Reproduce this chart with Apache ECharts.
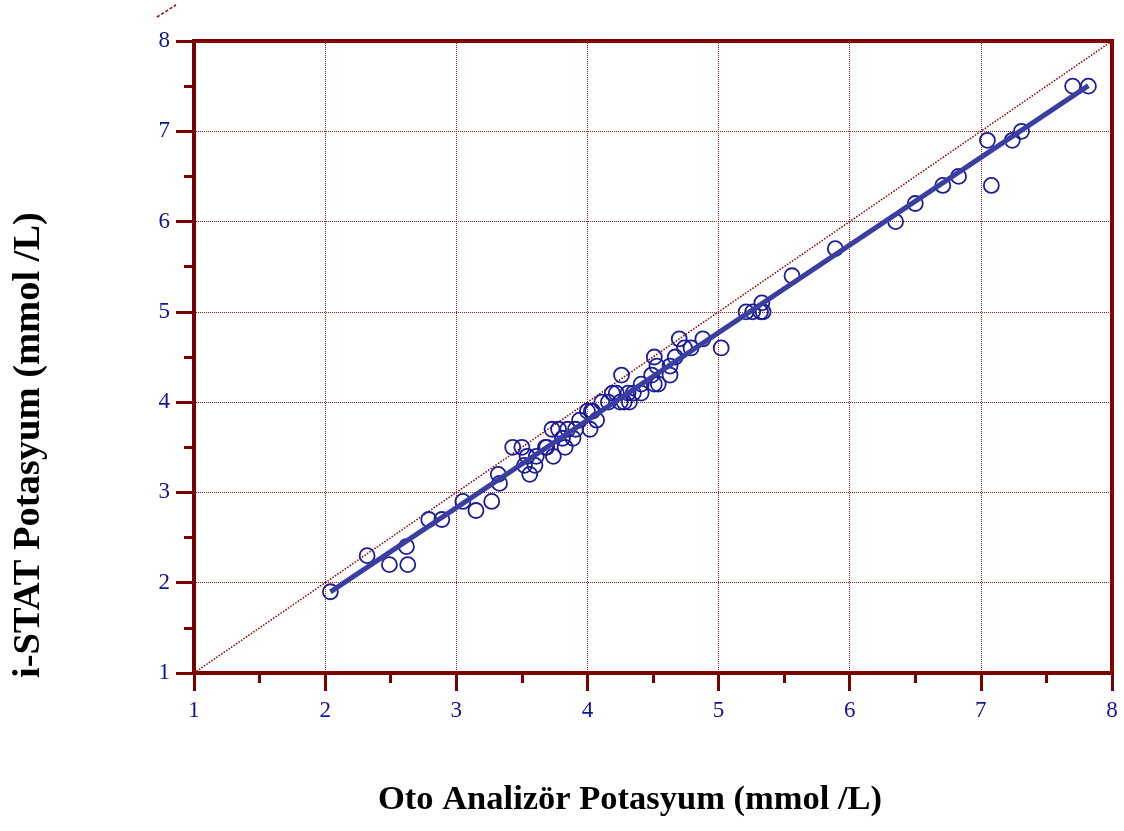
<!DOCTYPE html>
<html>
<head>
<meta charset="utf-8">
<script src="https://cdn.jsdelivr.net/npm/echarts@6/dist/echarts.min.js"></script>
<style>
  html, body { margin: 0; padding: 0; background: #fff; }
  #chart { width: 1124px; height: 831px; }
</style>
</head>
<body>
<div id="chart"></div>
<script>
// values
var otoK = [2.04, 2.32, 2.49, 2.62, 2.63, 2.79, 2.89, 3.05, 3.15, 3.27,
  3.32, 3.33, 3.43, 3.50, 3.54, 3.52, 3.56, 3.60, 3.61, 3.68,
  3.74, 3.73, 3.78, 3.81, 3.83, 3.85, 3.91, 3.89, 3.94, 4.00,
  4.02, 4.04, 4.07, 4.11, 4.16, 4.19, 4.22, 4.25, 4.28, 4.32,
  4.31, 4.35, 4.26, 4.41, 4.41, 4.49, 4.51, 4.53, 4.54, 4.63,
  4.63, 4.67, 4.70, 4.74, 4.79, 4.88, 5.02, 5.21, 5.26, 5.32,
  5.34, 5.33, 5.56, 5.89, 6.35, 6.50, 6.71, 6.83, 7.05, 7.08,
  7.24, 7.31, 7.70, 7.82, 4.03, 4.51, 3.69];
var istatK = [1.9, 2.3, 2.2, 2.4, 2.2, 2.7, 2.7, 2.9, 2.8, 2.9,
  3.2, 3.1, 3.5, 3.5, 3.4, 3.3, 3.2, 3.3, 3.4, 3.5,
  3.4, 3.7, 3.7, 3.6, 3.5, 3.7, 3.7, 3.6, 3.8, 3.9,
  3.7, 3.9, 3.8, 4.0, 4.0, 4.1, 4.1, 4.0, 4.0, 4.0,
  4.1, 4.1, 4.3, 4.1, 4.2, 4.3, 4.5, 4.4, 4.2, 4.4,
  4.3, 4.5, 4.7, 4.6, 4.6, 4.7, 4.6, 5.0, 5.0, 5.0,
  5.0, 5.1, 5.4, 5.7, 6.0, 6.2, 6.4, 6.5, 6.9, 6.4,
  6.9, 7.0, 7.5, 7.5, 3.9, 4.2, 3.5];
var axisTicks = [1, 2, 3, 4, 5, 6, 7, 8];
var identity = [[1, 1], [8, 8]];
var fitSlope = 0.97;
var fitIntercept = -0.08;

var points = otoK.map(function (x, i) { return [x, istatK[i]]; });
var xMin = Math.min.apply(null, otoK);
var xMax = Math.max.apply(null, otoK);
var fitLine = [[xMin, fitSlope * xMin + fitIntercept], [xMax, fitSlope * xMax + fitIntercept]];

var axisRed = '#7a0000';
var labelBlue = '#14148c';

function makeAxis() {
  return {
    type: 'value',
    min: axisTicks[0],
    max: axisTicks[axisTicks.length - 1],
    interval: 1,
    axisLine: { show: true, onZero: false, lineStyle: { color: axisRed, width: 4 } },
    axisTick: { show: true, inside: false, length: 18, lineStyle: { color: axisRed, width: 3 } },
    minorTick: { show: true, splitNumber: 2, length: 10, lineStyle: { color: axisRed, width: 3 } },
    splitLine: { show: true, lineStyle: { color: '#a01818', type: 'dotted', width: 1 } },
    axisLabel: { color: labelBlue, fontFamily: 'Liberation Serif', fontSize: 23 }
  };
}

var xAxis = makeAxis();
xAxis.axisLabel.margin = 26;
var yAxis = makeAxis();
yAxis.axisLabel.margin = 24;

var chart = echarts.init(document.getElementById('chart'));
var option = {
  animation: false,
  backgroundColor: '#fff',
  grid: {
    left: 194, right: 12, top: 41, bottom: 158,
    show: true, borderColor: axisRed, borderWidth: 4
  },
  xAxis: xAxis,
  yAxis: yAxis,
  graphic: [
    {
      type: 'text', left: 378, top: 783,
      style: { text: 'Oto Analizör Potasyum (mmol /L)', font: 'bold 34.5px "Liberation Serif"', fill: '#000' }
    },
    {
      type: 'text', x: 10, y: 678, rotation: Math.PI / 2,
      style: { text: 'i-STAT Potasyum (mmol /L)', font: 'bold 38.5px "Liberation Serif"', fill: '#000' }
    },
    {
      type: 'line', shape: { x1: 157, y1: 17, x2: 176, y2: 5 },
      style: { stroke: '#8b0000', lineWidth: 1.5, lineDash: [3, 2] }
    }
  ],
  series: [
    {
      type: 'line',
      data: identity,
      symbol: 'none',
      lineStyle: { color: '#8b0000', width: 1.5, type: 'dotted' },
      z: 2
    },
    {
      type: 'scatter',
      data: points,
      symbol: 'circle',
      symbolSize: 15,
      itemStyle: { color: 'rgba(255,255,255,0)', borderColor: '#1c1c94', borderWidth: 1.8, opacity: 1 },
      z: 3
    },
    {
      type: 'line',
      data: fitLine,
      symbol: 'none',
      lineStyle: { color: '#3a3ea0', width: 5 },
      z: 4
    }
  ]
};
chart.setOption(option);
</script>
</body>
</html>
